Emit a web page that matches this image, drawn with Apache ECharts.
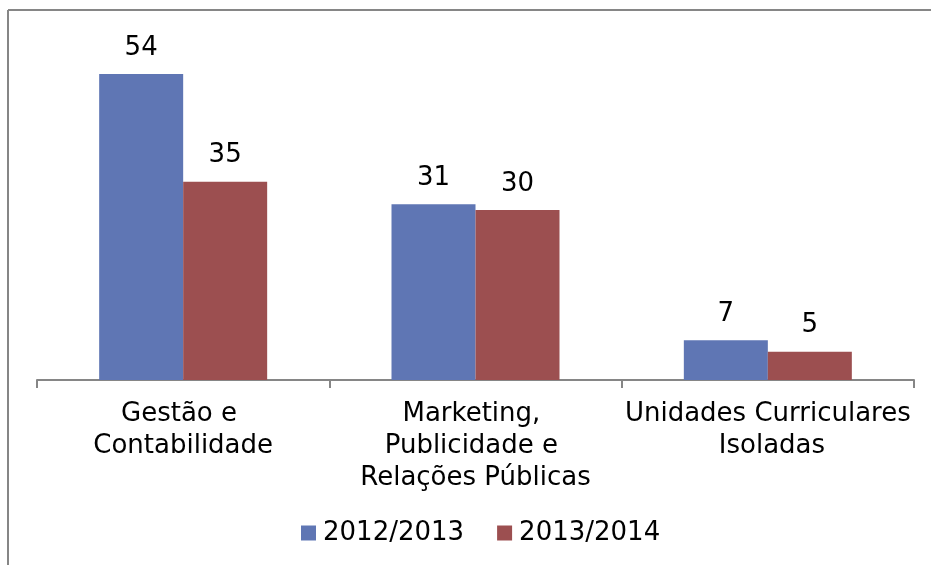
<!DOCTYPE html>
<html>
<head>
<meta charset="utf-8">
<script src="https://cdn.jsdelivr.net/npm/echarts@6/dist/echarts.min.js"></script>
<style>
  html, body { margin: 0; padding: 0; background: #fff; }
  #chart { width: 931px; height: 565px; }
</style>
</head>
<body>
<div id="chart"></div>
<script>
// dados
const categories = ['Gestão e Contabilidade', 'Marketing, Publicidade e Relações Públicas', 'Unidades Curriculares Isoladas']
const seriesNames = ['2012/2013', '2013/2014']
const values2012 = [54, 31, 7]
const values2013 = [35, 30, 5]
const colors = ['#5F76B4', '#9C4F50']

const chart = echarts.init(document.getElementById('chart'))
const font = 'DejaVu Sans, Verdana, sans-serif'

const makeSeries = (name, data, color) => ({
  name: name,
  type: 'bar',
  data: data,
  barWidth: 84,
  barGap: '0%',
  itemStyle: { color: color },
  label: {
    show: true,
    position: 'top',
    distance: 13,
    color: '#000',
    fontSize: 26,
    fontFamily: font
  }
})

chart.setOption({
  animation: false,
  textStyle: { fontFamily: font },
  grid: { left: 37, right: 17, top: 40, bottom: 185 },
  graphic: [
    { type: 'line', shape: { x1: 8, y1: 10, x2: 931, y2: 10 }, style: { stroke: '#868686', lineWidth: 2 } },
    { type: 'line', shape: { x1: 8, y1: 10, x2: 8, y2: 565 }, style: { stroke: '#868686', lineWidth: 2 } }
  ],
  legend: {
    data: seriesNames,
    left: 301,
    top: 520,
    padding: 0,
    itemWidth: 15,
    itemHeight: 15,
    itemGap: 33,
    icon: 'rect',
    textStyle: { fontSize: 26, color: '#000', fontFamily: font, padding: [0, 0, 0, 2] }
  },
  xAxis: {
    type: 'category',
    data: categories,
    axisLine: { lineStyle: { color: '#868686', width: 2 } },
    axisTick: { show: true, length: 8, lineStyle: { color: '#868686', width: 2 } },
    axisLabel: {
      interval: 0,
      margin: 18,
      fontSize: 26,
      lineHeight: 32,
      color: '#000',
      fontFamily: font,
      width: 290,
      overflow: 'break'
    }
  },
  yAxis: {
    type: 'value',
    min: 0,
    max: 60,
    show: false,
    splitLine: { show: false }
  },
  series: [
    makeSeries(seriesNames[0], values2012, colors[0]),
    makeSeries(seriesNames[1], values2013, colors[1])
  ]
})
</script>
</body>
</html>
